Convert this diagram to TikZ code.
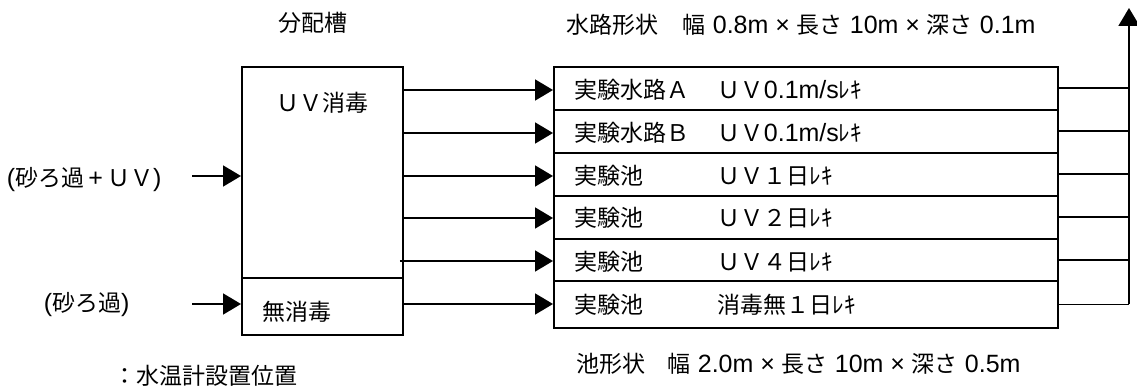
\documentclass[tikz,border=0pt]{standalone}
\usepackage{fontspec}
\setmainfont{Noto Sans CJK JP}
\newfontfamily\lat{Liberation Sans}
\newcommand\LL[1]{{\lat\fontsize{25}{28}\selectfont #1}}
\usetikzlibrary{arrows.meta}
\begin{document}
\begin{tikzpicture}[x=1pt,y=-1pt,
  line width=1.8pt,
  every node/.style={font=\fontsize{23}{26}\selectfont, inner sep=0pt},
  boxnode/.style={draw, line width=1.8pt, anchor=north west},
  arr/.style={-{Triangle[length=18pt,width=21pt]}},
  txt/.style={anchor=base west},
  ctxt/.style={anchor=base},
]
\useasboundingbox (0,0) rectangle (1137,387);

% distribution tank
\node[boxnode, minimum width=161pt, minimum height=211pt] (uv) at (241,66) {};
\node[boxnode, minimum width=161pt, minimum height=57pt] (none) at (241,277) {};
\node[ctxt] (uvt) at (322,112) {ＵＶ消毒};
\node[ctxt] (nonet) at (297,320) {無消毒};
\node[ctxt] (tank) at (313,32) {分配槽};

% inputs
\node[txt] (in1) at (6,187) {\LL{(}砂ろ過\LL{\,+\,}ＵＶ\LL{)}};
\node[txt] (in2) at (43,311) {\LL{(}砂ろ過\LL{)}};
\coordinate (s1) at (192,176);
\coordinate (s2) at (192,304);
\draw[arr] (s1) -- (uv.west |- s1);
\draw[arr] (s2) -- (none.west |- s2);

% rows
\node[boxnode, minimum width=504pt, minimum height=43pt] (r1) at (553,66) {};
\node[boxnode, minimum width=504pt, minimum height=43pt] (r2) at (553,109) {};
\node[boxnode, minimum width=504pt, minimum height=43pt] (r3) at (553,152) {};
\node[boxnode, minimum width=504pt, minimum height=43pt] (r4) at (553,195) {};
\node[boxnode, minimum width=504pt, minimum height=42pt] (r5) at (553,238) {};
\node[boxnode, minimum width=504pt, minimum height=47pt] (r6) at (553,280) {};

\coordinate (y1) at (0,90);
\coordinate (y2) at (0,133);
\coordinate (y3) at (0,176);
\coordinate (y4) at (0,218);
\coordinate (y5) at (0,261);
\coordinate (y6) at (0,304);

\node[txt] (a1) at (574,99) {実験水路Ａ};
\node[txt] (a2) at (574,142) {実験水路Ｂ};
\node[txt] (a3) at (574,185) {実験池};
\node[txt] (a4) at (574,227) {実験池};
\node[txt] (a5) at (574,270) {実験池};
\node[txt] (a6) at (574,313) {実験池};
\node[txt] (b1) at (717,99) {ＵＶ\LL{0.1m/s}ﾚｷ};
\node[txt] (b2) at (717,142) {ＵＶ\LL{0.1m/s}ﾚｷ};
\node[txt] (b3) at (717,185) {ＵＶ１日ﾚｷ};
\node[txt] (b4) at (717,227) {ＵＶ２日ﾚｷ};
\node[txt] (b5) at (717,270) {ＵＶ４日ﾚｷ};
\node[txt] (b6) at (717,313) {消毒無１日ﾚｷ};

% tank -> rows
\draw[arr] (uv.east |- y1) -- (r1.west |- y1);
\draw[arr] (uv.east |- y2) -- (r2.west |- y2);
\draw[arr] (uv.east |- y3) -- (r3.west |- y3);
\draw[arr] (uv.east |- y4) -- (r4.west |- y4);
\draw[arr] ([xshift=-4pt]uv.east |- y5) -- (r5.west |- y5);
\draw[arr] (none.east |- y6) -- (r6.west |- y6);

% outlet collector
\coordinate (top) at (1129,8);
\draw (r1.east) -- (r1.east -| top);
\draw (r2.east) -- (r2.east -| top);
\draw (r3.east) -- (r3.east -| top);
\draw (r4.east) -- (r4.east -| top);
\draw (r5.east) -- (r5.east -| top);
\draw (r6.east) -- (r6.east -| top);
\draw[arr] (r6.east -| top) -- (top);

% captions
\node[txt] (cap1) at (566,34) {水路形状\hspace{24pt}幅\LL{ 0.8m × }長さ\LL{ 10m × }深さ\LL{ 0.1m}};
\node[txt] (cap2) at (576,372) {池形状\hspace{22pt}幅\LL{ 2.0m × }長さ\LL{ 10m × }深さ\LL{ 0.5m}};
\node[txt] (legend) at (113,384) {：水温計設置位置};
\end{tikzpicture}
\end{document}
